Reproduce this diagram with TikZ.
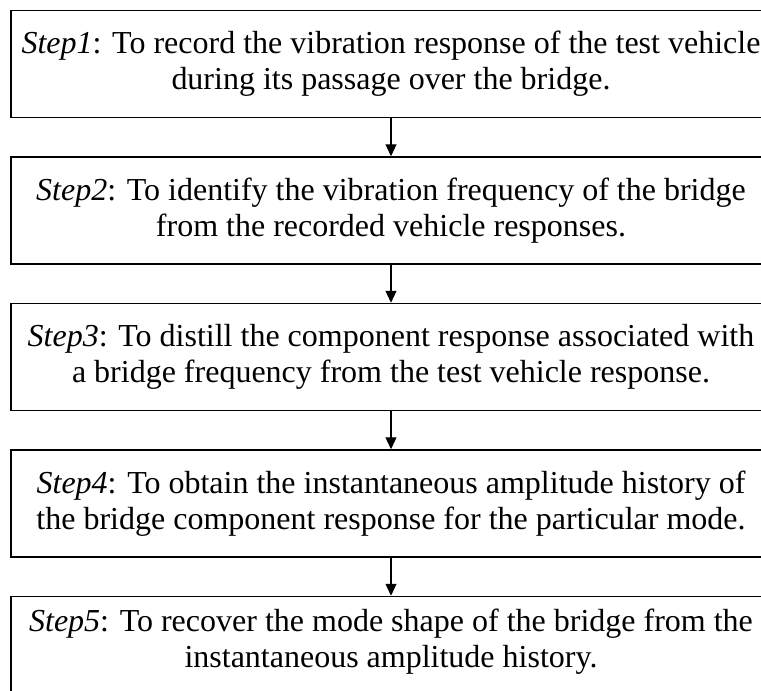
\documentclass[tikz,border=0pt]{standalone}
\usepackage{fontspec}
\setmainfont{Liberation Serif}
\usetikzlibrary{arrows.meta, positioning}

\begin{document}
\begin{tikzpicture}[x=1pt, y=1pt,
      % Define compact styles
      stepbox/.style={rectangle, draw, line width=1.5pt, minimum width=760pt, minimum height=107pt, align=center, inner sep=0pt, font=\fontsize{32}{36}\selectfont},
      arrow/.style={-{Triangle[length=12pt, width=11pt]}, line width=1.2pt}
    ]
    \useasboundingbox (0,0) rectangle (761,-691);

    % Steps, top to bottom
    \node[stepbox] (step1) at (391,-64) {\textit{Step1}: To record the vibration response of the test vehicle\\during its passage over the bridge.};
    \node[stepbox, below=38pt of step1] (step2) {\textit{Step2}: To identify the vibration frequency of the bridge\\from the recorded vehicle responses.};
    \node[stepbox, below=38pt of step2] (step3) {\textit{Step3}: To distill the component response associated with\\a bridge frequency from the test vehicle response.};
    \node[stepbox, below=38pt of step3] (step4) {\textit{Step4}: To obtain the instantaneous amplitude history of\\the bridge component response for the particular mode.};
    \node[stepbox, below=38pt of step4, text depth=24pt] (step5) {\textit{Step5}: To recover the mode shape of the bridge from the\\instantaneous amplitude history.};

    % Arrows
    \draw[arrow] (step1) -- (step2);
    \draw[arrow] (step2) -- (step3);
    \draw[arrow] (step3) -- (step4);
    \draw[arrow] (step4) -- (step5);

\end{tikzpicture}
\end{document}
